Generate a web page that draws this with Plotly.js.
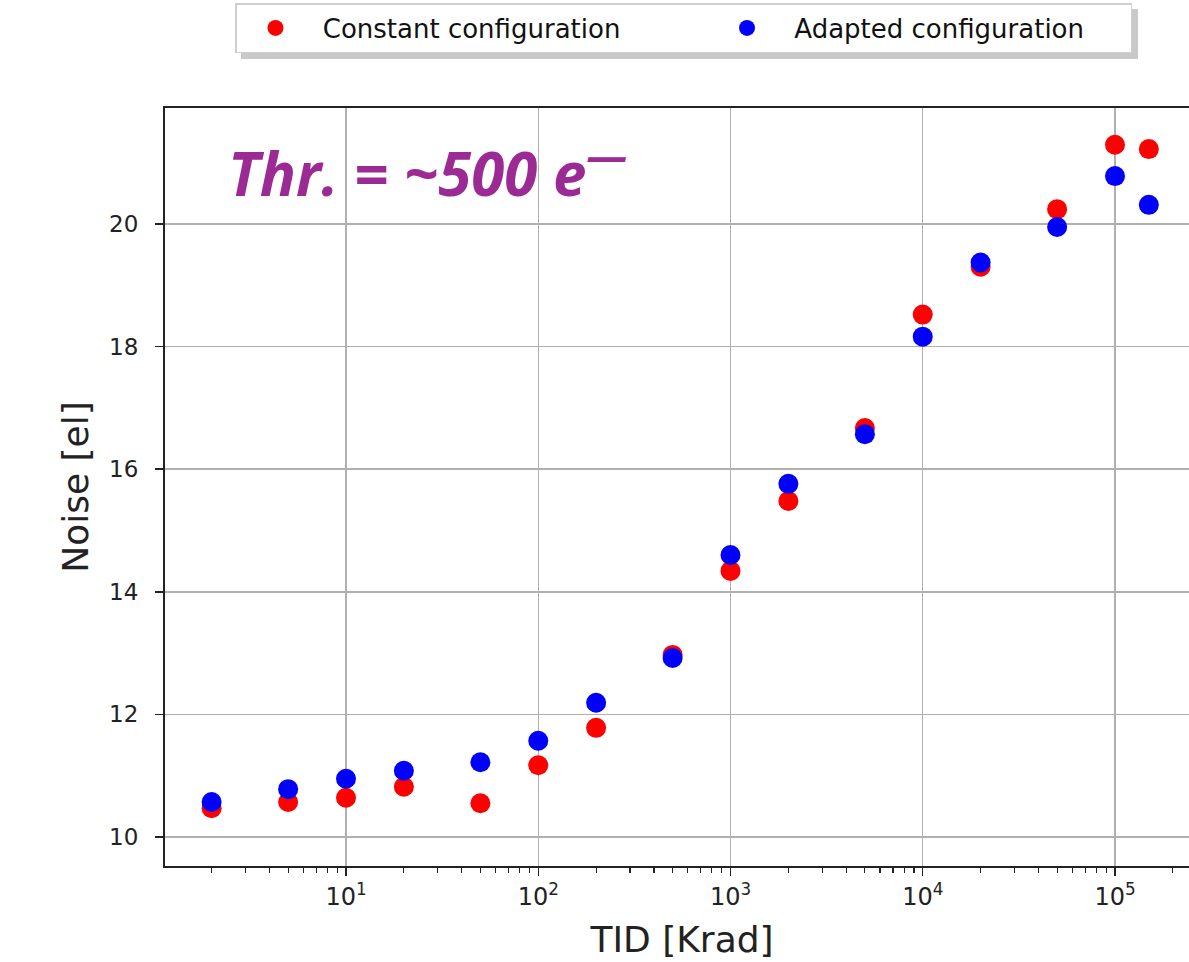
<!DOCTYPE html>
<html>
<head>
<meta charset="utf-8">
<script src="https://cdn.plot.ly/plotly-3.0.1.min.js"></script>
<style>
html,body{margin:0;padding:0;overflow:hidden;background:#fff;}
#chart{width:1240px;height:962px;}
</style>
</head>
<body>
<div id="chart"></div>
<script>
// TID values [Krad]
const tid = [2, 5, 10, 20, 50, 100, 200, 500, 1000, 2000, 5000, 10000, 20000, 50000, 100000, 150000];
// Noise [el] - constant configuration
const noiseConstant = [10.47, 10.57, 10.64, 10.82, 10.55, 11.17, 11.78, 12.97, 14.34, 15.48, 16.67, 18.52, 19.30, 20.24, 21.29, 21.22];
// Noise [el] - adapted configuration
const noiseAdapted = [10.57, 10.78, 10.95, 11.08, 11.22, 11.57, 12.19, 12.92, 14.60, 15.76, 16.57, 18.16, 19.37, 19.95, 20.78, 20.31];

const xTickVals = [10, 100, 1000, 10000, 100000];
const xTickText = ['10<sup>1</sup>', '10<sup>2</sup>', '10<sup>3</sup>', '10<sup>4</sup>', '10<sup>5</sup>'];
const yTickVals = [10, 12, 14, 16, 18, 20];

const NB = '\u00a0';
const seriesNames = [NB.repeat(1) + 'Constant configuration' + NB.repeat(10),
                     NB.repeat(1) + 'Adapted configuration' + NB.repeat(5)];
const annotationText = '<b><i>Thr. = ~500 e<sup>\u2014</sup></i></b>';

// minor tick positions (2..9 per decade)
const minorVals = [];
for (let d = 0; d <= 5; d++) {
  for (let m = 2; m <= 9; m++) minorVals.push(m * Math.pow(10, d));
}

const W = 1240, H = 962;
const L = 165, R = 41, T = 108, B = 96;
const pw = W - L - R, ph = H - T - B;
const px = v => (v - L) / pw;
const py = v => (H - B - v) / ph;

const traces = [
  {x: tid, y: noiseConstant, name: seriesNames[0], type: 'scatter', mode: 'markers',
   marker: {color: '#ff0000', size: 20}},
  {x: tid, y: noiseAdapted, name: seriesNames[1], type: 'scatter', mode: 'markers',
   marker: {color: '#0000ff', size: 20}}
];

const layout = {
  width: W, height: H,
  margin: {l: L, r: R, t: T, b: B, autoexpand: false},
  paper_bgcolor: '#fff', plot_bgcolor: '#fff',
  showlegend: true,
  font: {family: 'DejaVu Sans', color: '#222'},
  xaxis: {
    type: 'log', range: [0.0585, 5.437],
    tickmode: 'array', tickvals: xTickVals, ticktext: xTickText,
    ticks: 'outside', ticklen: 8, tickwidth: 1.5, tickcolor: '#222',
    showgrid: true, gridcolor: '#b0b0b0', gridwidth: 1.5,
    showline: true, linecolor: '#222', linewidth: 2, mirror: true,
    zeroline: false,
    tickfont: {size: 24, family: 'DejaVu Sans', color: '#222'},
    minor: {tickmode: 'array', tickvals: minorVals, ticks: 'outside', ticklen: 5, tickwidth: 1.2, tickcolor: '#222', showgrid: false},
    title: {text: 'TID [Krad]', font: {size: 36, family: 'DejaVu Sans', color: '#222'}, standoff: 17}
  },
  yaxis: {
    range: [9.527, 21.89],
    tickmode: 'array', tickvals: yTickVals,
    ticks: 'outside', ticklen: 8, tickwidth: 1.5, tickcolor: '#222',
    ticklabelstandoff: 12,
    showgrid: true, gridcolor: '#b0b0b0', gridwidth: 1.5,
    showline: true, linecolor: '#222', linewidth: 2, mirror: true,
    zeroline: false,
    tickfont: {size: 23, family: 'DejaVu Sans', color: '#222'},
    title: {text: 'Noise [el]', font: {size: 36, family: 'DejaVu Sans', color: '#222'}, standoff: 10}
  },
  legend: {
    orientation: 'h', x: px(235), xanchor: 'left', y: py(3), yanchor: 'top',
    bgcolor: '#fff', bordercolor: '#cfcfcf', borderwidth: 1.5,
    itemwidth: 68,
    font: {size: 26, family: 'DejaVu Sans', color: '#111'}
  },
  shapes: [
    {type: 'rect', xref: 'paper', yref: 'paper', layer: 'above',
     x0: px(241), x1: px(1138), y0: py(9), y1: py(59),
     fillcolor: 'rgba(165,165,165,0.6)', line: {width: 0}}
  ],
  annotations: [
    {text: annotationText, xref: 'paper', yref: 'paper', x: px(226), y: py(170),
     xanchor: 'left', yanchor: 'middle', showarrow: false,
     font: {family: 'Open Sans', size: 60, color: '#9b2a94'}}
  ]
};

Plotly.newPlot('chart', traces, layout, {displayModeBar: false, staticPlot: true});
</script>
</body>
</html>
